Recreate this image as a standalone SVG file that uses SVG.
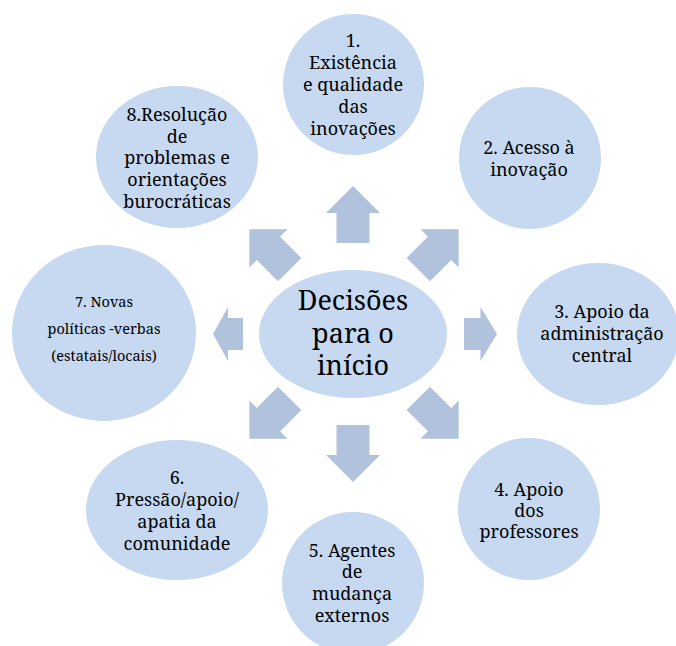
<svg xmlns="http://www.w3.org/2000/svg" width="676" height="646" viewBox="0 0 676 646">
  <style>
    .bubble { fill: #C6D9F1; }
    .arrow { fill: #B1C2DD; }
    text { font-family: 'Noto Serif', 'DejaVu Serif', serif; fill: #000; text-anchor: middle; }
    .lbl { font-size: 18px; }
    .small { font-size: 14.5px; }
    .hub { font-size: 27px; }
  </style>
  <defs>
    <!-- block arrow pointing up, origin at the hub centre -->
    <path id="vArrow" d="M0,-148 L27,-121 L16.5,-121 L16.5,-91 L-16.5,-91 L-16.5,-121 L-27,-121 Z"/>
  </defs>

  <rect width="676" height="646" fill="#fff"/>

  <!-- connectors -->
  <g id="connectors" class="arrow">
    <use href="#vArrow" transform="translate(353,334)"/>
    <use href="#vArrow" transform="translate(354,334) rotate(45)"/>
    <path d="M464,318 L480.5,318 L480.5,307 L497,334 L480.5,361 L480.5,350 L464,350 Z"/>
    <use href="#vArrow" transform="translate(354,334) rotate(135)"/>
    <use href="#vArrow" transform="translate(353,334) rotate(180)"/>
    <use href="#vArrow" transform="translate(354,334) rotate(225)"/>
    <path d="M243,318 L228,318 L228,307 L213,334 L228,361 L228,350 L243,350 Z"/>
    <use href="#vArrow" transform="translate(354,334) rotate(315)"/>
  </g>

  <g id="hub">
    <ellipse class="bubble" cx="353" cy="334" rx="94" ry="64"/>
    <text class="hub" x="353" y="310">Decisões</text>
    <text class="hub" x="353" y="343">para o</text>
    <text class="hub" x="353" y="375">início</text>
  </g>

  <g id="node1">
    <circle class="bubble" cx="353.5" cy="84.5" r="70.5"/>
    <text class="lbl" x="353" y="47">1.</text>
    <text class="lbl" x="353" y="69">Existência</text>
    <text class="lbl" x="353" y="91">e qualidade</text>
    <text class="lbl" x="353" y="113">das</text>
    <text class="lbl" x="353" y="135">inovações</text>
  </g>

  <g id="node2">
    <circle class="bubble" cx="530" cy="158" r="71"/>
    <text class="lbl" x="529" y="154">2. Acesso à</text>
    <text class="lbl" x="529" y="176">inovação</text>
  </g>

  <g id="node3">
    <ellipse class="bubble" cx="598" cy="334" rx="81" ry="71"/>
    <text class="lbl" x="602" y="318">3. Apoio da</text>
    <text class="lbl" x="602" y="340">administração</text>
    <text class="lbl" x="602" y="362">central</text>
  </g>

  <g id="node4">
    <circle class="bubble" cx="529" cy="509" r="71"/>
    <text class="lbl" x="529" y="496">4. Apoio</text>
    <text class="lbl" x="529" y="517">dos</text>
    <text class="lbl" x="529" y="538">professores</text>
  </g>

  <g id="node5">
    <circle class="bubble" cx="353" cy="583" r="71"/>
    <text class="lbl" x="352" y="557">5. Agentes</text>
    <text class="lbl" x="352" y="578">de</text>
    <text class="lbl" x="352" y="600">mudança</text>
    <text class="lbl" x="352" y="622">externos</text>
  </g>

  <g id="node6">
    <ellipse class="bubble" cx="177" cy="510" rx="91" ry="70"/>
    <text class="lbl" x="177" y="484">6.</text>
    <text class="lbl" x="177" y="506">Pressão/apoio/</text>
    <text class="lbl" x="177" y="528">apatia da</text>
    <text class="lbl" x="177" y="550">comunidade</text>
  </g>

  <g id="node7">
    <ellipse class="bubble" cx="104" cy="333" rx="92" ry="88"/>
    <text class="small" x="104" y="307">7. Novas</text>
    <text class="small" x="104" y="334">políticas -verbas</text>
    <text class="small" x="104" y="361">(estatais/locais)</text>
  </g>

  <g id="node8">
    <ellipse class="bubble" cx="177" cy="157" rx="81" ry="71"/>
    <text class="lbl" x="177" y="121">8.Resolução</text>
    <text class="lbl" x="177" y="143">de</text>
    <text class="lbl" x="177" y="164">problemas e</text>
    <text class="lbl" x="177" y="186">orientações</text>
    <text class="lbl" x="177" y="208">burocráticas</text>
  </g>
</svg>
